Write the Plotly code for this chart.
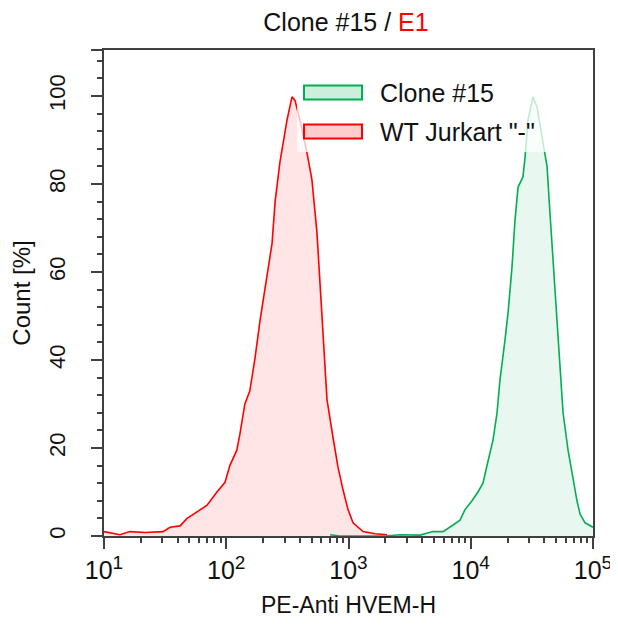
import plotly.graph_objects as go

# ---- data (PE intensity, Count %) ----
red_pe = [10, 13.5, 16.3, 21.6, 30.4, 34.7, 41.9, 47.8, 57.7, 69.7, 83.9, 97.7, 107, 122, 129,
          142, 156, 172, 189, 207, 237, 251, 275, 314, 345, 365, 401, 458, 502, 552, 585, 618,
          667, 746, 820, 902, 991, 1089, 1315, 1648, 2065]
red_count = [1.0, 0.3, 1.0, 0.8, 1.0, 2.0, 2.3, 4.0, 5.5, 7.0, 10.0, 12.2, 16.0, 19.5, 23.0,
             30.0, 33.0, 40.5, 49.0, 56.5, 66.5, 76.0, 85.0, 94.5, 99.8, 99.0, 94.5, 87.0, 81.0,
             69.0, 56.5, 44.5, 31.0, 22.5, 15.7, 10.5, 6.0, 3.0, 1.0, 0.5, 0.3]

green_pe = [706, 853, 1242, 1991, 2636, 3846, 4909, 5929, 7161, 8166, 8974, 10233, 11455, 12589,
            13836, 15205, 16406, 17338, 19055, 20184, 21727, 23014, 24378, 26730, 27797, 29376,
            32285, 34834, 38282, 42073, 44463, 47098, 50816, 53703, 56885, 62517, 68549, 73961,
            78343, 86099, 100000]
green_count = [0.3, 0.0, 0.0, 0.0, 0.3, 0.2, 1.0, 1.0, 2.5, 3.6, 6.0, 8.0, 10.0, 12.0, 17.0, 21.8,
               28.0, 35.5, 44.5, 50.7, 61.0, 71.8, 79.3, 81.6, 86.0, 94.5, 99.8, 97.5, 90.7, 84.0,
               73.4, 62.7, 50.7, 38.4, 28.0, 19.5, 12.7, 8.0, 5.0, 3.0, 2.0]

series_names = ["Clone #15", 'WT Jurkart "-"']
x_tick_vals = [10, 100, 1000, 10000, 100000]
x_exponents = ["1", "2", "3", "4", "5"]
x_tick_text = ["10<sup><span style='font-size:19px'>" + e + "</span></sup>" for e in x_exponents]
y_tick_vals = [0, 20, 40, 60, 80, 100]
y_top = 110.45

RED = "#ff0000"
GREEN = "#00b050"
FONT = "Liberation Sans, Arial, sans-serif"
AX = "#404040"

# page has an 8px body margin; the figure is sized to fit the 618x631 window
OFF = 8
FIG_W, FIG_H = 608, 615
L, T, W, H = 104.0, 50.0, 489.0, 486.0   # plot area in page pixels

fig = go.Figure()
fig.add_trace(go.Scatter(x=red_pe, y=red_count, mode="lines", name=series_names[1],
                         line=dict(color=RED, width=1.6), fill="tozeroy",
                         fillcolor="rgba(255,0,0,0.10)", showlegend=False))
fig.add_trace(go.Scatter(x=green_pe, y=green_count, mode="lines", name=series_names[0],
                         line=dict(color=GREEN, width=1.6), fill="tozeroy",
                         fillcolor="rgba(0,170,80,0.09)", showlegend=False))

minor_x = [m * 10 ** e for e in range(1, 5) for m in range(2, 10)]

fig.update_xaxes(type="log", range=[0.99999, 5.00001], tickvals=x_tick_vals, ticktext=x_tick_text,
                 showline=True, linecolor=AX, linewidth=2, mirror=True, automargin=False,
                 ticklabeloverflow="allow",
                 ticks="outside", ticklen=11, tickwidth=2, tickcolor=AX,
                 minor=dict(tickvals=minor_x, ticks="outside", ticklen=5, tickwidth=1.5, tickcolor=AX),
                 showgrid=False, zeroline=False,
                 tickfont=dict(family=FONT, size=25, color="#111"),
                 title=dict(text="PE-Anti HVEM-H", font=dict(family=FONT, size=23, color="#111"), standoff=14))

fig.update_yaxes(range=[0, y_top], tickvals=y_tick_vals + [y_top - 0.01],
                 ticktext=[str(v) for v in y_tick_vals] + [""],
                 showline=True, linecolor=AX, linewidth=2, mirror=True, automargin=False,
                 ticklabeloverflow="allow",
                 ticks="outside", ticklen=11, tickwidth=2, tickcolor=AX,
                 minor=dict(tick0=0, dtick=4, ticks="outside", ticklen=5, tickwidth=1.5, tickcolor=AX),
                 showgrid=False, zeroline=False, tickangle=-90, ticklabelstandoff=17,
                 tickfont=dict(family=FONT, size=22, color="#111"),
                 title=dict(text="Count [%]", font=dict(family=FONT, size=24, color="#111"), standoff=16))

def px(x):
    return (x - L) / W
def py(y):
    return (T + H - y) / H

shapes = [
    dict(type="rect", xref="paper", yref="paper", x0=px(297), x1=px(555), y0=py(152), y1=py(78),
         fillcolor="rgba(255,255,255,0.75)", line=dict(width=0), layer="above"),
    dict(type="rect", xref="paper", yref="paper", x0=px(304), x1=px(362), y0=py(99.5), y1=py(85.5),
         fillcolor="#cdeedb", line=dict(color=GREEN, width=2), layer="above"),
    dict(type="rect", xref="paper", yref="paper", x0=px(304), x1=px(362), y0=py(138.5), y1=py(124.5),
         fillcolor="#ffcccc", line=dict(color=RED, width=2), layer="above"),
]
annotations = [
    dict(text=series_names[0], xref="paper", yref="paper", x=px(378), y=py(93), xanchor="left",
         yanchor="middle", showarrow=False, font=dict(family=FONT, size=25, color="#111")),
    dict(text=series_names[1], xref="paper", yref="paper", x=px(378), y=py(132), xanchor="left",
         yanchor="middle", showarrow=False, font=dict(family=FONT, size=25, color="#111")),
]

ml = L - OFF
mt = T - OFF
mr = FIG_W - ml - W
mb = FIG_H - mt - H

fig.update_layout(
    width=FIG_W, height=FIG_H,
    margin=dict(l=ml, r=mr, t=mt, b=mb, autoexpand=False),
    plot_bgcolor="white", paper_bgcolor="white",
    title=dict(text="Clone #15 / <span style='color:#ff0000'>E1</span>",
               x=px(346), xref="paper", xanchor="center",
               y=1 - (22 - OFF) / FIG_H, yref="container", yanchor="middle",
               font=dict(family=FONT, size=25, color="#111")),
    shapes=shapes, annotations=annotations,
    showlegend=False,
)

fig.write_html("out.html")
